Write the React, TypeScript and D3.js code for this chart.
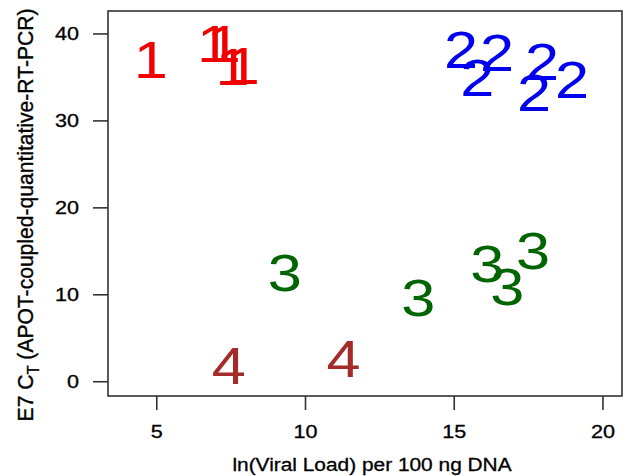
import React from 'react';
import * as d3 from 'd3';

// ln(viral load) vs E7 Ct, one array pair per cluster, digit marks as in R pch
const group1X = [4.8, 6.92, 7.25, 7.55, 7.89];
const group1Y = [37.0, 38.9, 38.9, 36.2, 36.3];
const group2X = [15.23, 16.44, 15.77, 17.95, 17.68, 18.96];
const group2Y = [38.2, 37.9, 35.0, 36.8, 33.3, 34.7];
const group3X = [9.3, 13.79, 16.11, 16.78, 17.65];
const group3Y = [12.5, 9.7, 13.6, 10.9, 15.1];
const group4X = [7.42, 11.28];
const group4Y = [1.8, 2.6];

const groupLabels = ['1', '2', '3', '4'];
const groupColors = ['#f00000', '#0000ee', '#006400', '#a52a2a'];

const xTicks = [5, 10, 15, 20];
const yTicks = [0, 10, 20, 30, 40];

const W = 623;
const H = 476;
const SX = 1.2; // the picture is stretched sideways

const App = () => {
  const x = d3.scaleLinear().domain([3.36, 20.64]).range([108, 622]);
  const y = d3.scaleLinear().domain([-1.64, 42.64]).range([396, 11]);

  const groups = [
    [group1X, group1Y],
    [group2X, group2Y],
    [group3X, group3Y],
    [group4X, group4Y]
  ];

  const font = 'Liberation Sans, Arial, sans-serif';
  const axisColor = '#333';
  const textStyle = {fill: '#000', stroke: '#000', strokeWidth: 0.3};

  return (
    <div style={{position: 'absolute', left: 0, top: 0}}>
      <svg width={W} height={H} style={{display: 'block', background: '#fff'}} fontFamily={font}>
        {/* plot box */}
        <rect x={x.range()[0]} y={y.range()[1]} width={x.range()[1] - x.range()[0]}
          height={y.range()[0] - y.range()[1]} fill="none" stroke={axisColor} strokeWidth={1.6}/>

        {xTicks.map(t => (
          <g key={'x' + t}>
            <line x1={x(t)} x2={x(t)} y1={y.range()[0]} y2={y.range()[0] + 14} stroke={axisColor} strokeWidth={1.6}/>
            <text transform={`translate(${x(t)},${438}) scale(${SX},1)`} textAnchor="middle" fontSize={18} style={textStyle}>{t}</text>
          </g>
        ))}

        {yTicks.map(t => (
          <g key={'y' + t}>
            <line x1={x.range()[0] - 15} x2={x.range()[0]} y1={y(t)} y2={y(t)} stroke={axisColor} strokeWidth={1.6}/>
            <text transform={`translate(${79},${y(t) + 6.5}) scale(${SX},1)`} textAnchor="end" fontSize={18} style={textStyle}>{t}</text>
          </g>
        ))}

        <text transform={`translate(${372},${471}) scale(1.16,1)`} textAnchor="middle" fontSize={18} style={textStyle}>
          ln(Viral Load) per 100 ng DNA
        </text>

        <text transform={`translate(${33},${215}) rotate(-90) scale(1.14,${SX})`} textAnchor="middle" fontSize={18.5} style={textStyle}>
          E7 C<tspan fontSize={13} dy={5}>T</tspan><tspan dy={-5}> (APOT-coupled-quantitative-RT-PCR)</tspan>
        </text>

        {groups.map(([gx, gy], gi) => (
          <g key={'g' + gi} fill={groupColors[gi]}>
            {gx.map((v, i) => (
              <text key={i} transform={`translate(${x(v)},${y(gy[i])}) scale(${SX},1)`}
                textAnchor="middle" dy="0.36em" fontSize={51}>{groupLabels[gi]}</text>
            ))}
          </g>
        ))}
      </svg>
    </div>
  );
};

export default App;
